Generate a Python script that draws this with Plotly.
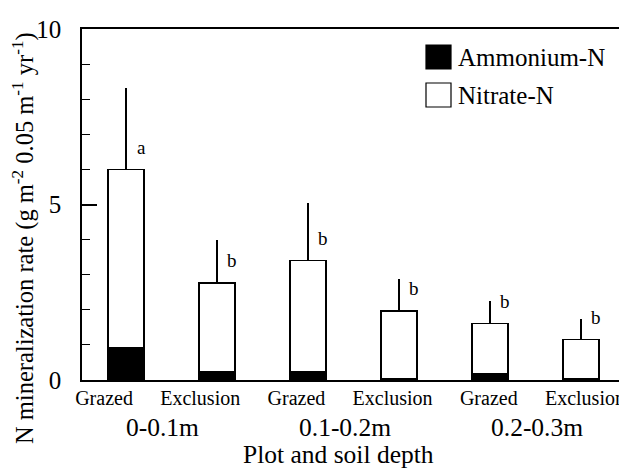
import plotly.graph_objects as go

# ---- data ----
treatments = ["Grazed", "Exclusion", "Grazed", "Exclusion", "Grazed", "Exclusion"]
depths = ["0-0.1m", "0.1-0.2m", "0.2-0.3m"]
ammonium = [0.92, 0.24, 0.24, 0.04, 0.19, 0.03]
nitrate = [5.08, 2.53, 3.16, 1.93, 1.42, 1.13]
error_up = [2.31, 1.22, 1.65, 0.91, 0.65, 0.57]
sig_letters = ["a", "b", "b", "b", "b", "b"]
series_names = ["Ammonium-N", "Nitrate-N"]
y_ticks = [0, 5, 10]

# ---- layout / style ----
depth_label_x = [0.61, 2.5, 4.5]  # positions on the label axis
FONT = "'Liberation Serif', 'Times New Roman', Times, serif"
OFF = 8  # page body margin
W, H = 627 - OFF, 474 - OFF
PL, PT, PR, PB = 82, 29, 627, 380  # plot area in window pixels
L, T = PL - OFF, PT - OFF
R = 0
pw, ph = PR - PL, PB - PT
B = H - T - ph

def px(x):
    return (x - PL) / pw

def py(y):
    return (PB - y) / ph

idx = list(range(len(treatments)))
totals = [a + n for a, n in zip(ammonium, nitrate)]

fig = go.Figure()
fig.add_trace(go.Bar(
    x=idx, y=ammonium, name=series_names[0], width=0.4,
    marker=dict(color="black", line=dict(color="black", width=1.5)),
    showlegend=False,
))
fig.add_trace(go.Bar(
    x=idx, y=nitrate, name=series_names[1], width=0.4,
    marker=dict(color="white", line=dict(color="black", width=1.5)),
    error_y=dict(type="data", symmetric=False, array=error_up,
                 arrayminus=[0] * len(error_up), width=0,
                 color="black", thickness=1.5),
    showlegend=False,
))
# invisible trace to activate the label axis
fig.add_trace(go.Scatter(x=idx, y=[None] * len(idx), xaxis="x2",
                         mode="markers", showlegend=False, hoverinfo="skip"))

annotations = []
for i, (t, s) in enumerate(zip(totals, sig_letters)):
    annotations.append(dict(x=i, y=t, xref="x", yref="y", text=s,
                            showarrow=False, xshift=15, yshift=22,
                            xanchor="center", yanchor="middle",
                            font=dict(family=FONT, size=19, color="black")))
for d, xpos in zip(depths, depth_label_x):
    annotations.append(dict(x=xpos, y=py(427), xref="x2", yref="paper",
                            text=d, showarrow=False,
                            xanchor="center", yanchor="middle",
                            font=dict(family=FONT, size=25.5, color="black")))
annotations.append(dict(x=px(338), y=py(455), xref="paper", yref="paper",
                        text="Plot and soil depth", showarrow=False,
                        xanchor="center", yanchor="middle",
                        font=dict(family=FONT, size=25.5, color="black")))
annotations.append(dict(x=px(23), y=py(238), xref="paper", yref="paper",
                        text="N mineralization rate (g m<sup>-2</sup> 0.05 m<sup>-1</sup> yr<sup>-1</sup>)",
                        textangle=-90, showarrow=False,
                        xanchor="center", yanchor="middle",
                        font=dict(family=FONT, size=24.5, color="black")))
# legend
colors = ["black", "white"]
shapes = []
for k, (nm, c) in enumerate(zip(series_names, colors)):
    top = 45 + 38 * k
    shapes.append(dict(type="rect", xref="paper", yref="paper",
                       x0=px(426), x1=px(451), y0=py(top + 24), y1=py(top),
                       fillcolor=c, line=dict(color="black", width=1.2)))
    annotations.append(dict(x=px(456), y=py(top + 12), xref="paper", yref="paper",
                            text=nm, showarrow=False, xanchor="left",
                            yanchor="middle",
                            font=dict(family=FONT, size=25, color="black")))

fig.update_layout(
    width=W, height=H,
    margin=dict(l=L, r=R, t=T, b=B, autoexpand=False),
    barmode="stack",
    paper_bgcolor="white", plot_bgcolor="white",
    font=dict(family=FONT, color="black"),
    annotations=annotations,
    shapes=shapes,
    xaxis=dict(range=[-0.484, 5.505], showticklabels=False, ticks="",
               showline=True, linecolor="black", linewidth=1.5, mirror=True,
               showgrid=False, zeroline=False, automargin=False),
    xaxis2=dict(overlaying="x", anchor="y", side="bottom",
                range=[-0.229, 5.437], tickvals=idx, ticktext=treatments,
                tickfont=dict(family=FONT, size=20, color="black"),
                showline=False, ticks="", showgrid=False, zeroline=False,
                ticklabelstandoff=4, automargin=False),
    yaxis=dict(range=[0, 10], tickvals=y_ticks, ticks="inside", ticklen=15,
               tickwidth=1.5, tickcolor="black",
               minor=dict(dtick=1, ticks="inside", ticklen=8, tickwidth=1.2,
                          tickcolor="black", showgrid=False),
               tickfont=dict(family=FONT, size=25, color="black"),
               ticklabelstandoff=14, automargin=False,
               showline=True, linecolor="black", linewidth=1.5,
               showgrid=False, zeroline=False),
)

fig.write_html("out.html")
